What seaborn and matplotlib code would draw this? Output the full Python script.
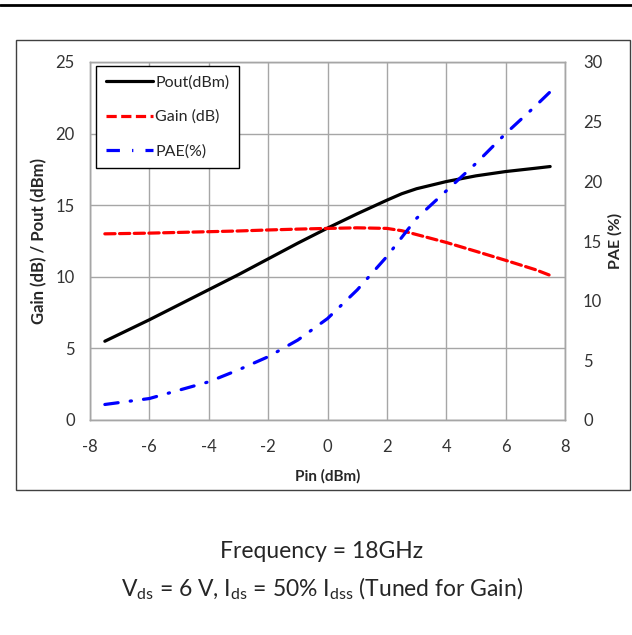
import numpy as np
import pandas as pd
import matplotlib
matplotlib.use("Agg")
import matplotlib.pyplot as plt
import seaborn as sns
from matplotlib.lines import Line2D
from matplotlib.patches import Rectangle

# values
pin = [-7.5, -6, -5, -4, -3, -2, -1, 0, 1, 2, 2.5, 3, 4, 5, 6, 7, 7.5]
pout = [5.5, 7.0, 8.05, 9.1, 10.15, 11.25, 12.35, 13.4, 14.4, 15.35, 15.8, 16.15, 16.65, 17.05, 17.35, 17.58, 17.7]
gain = [13.0, 13.05, 13.1, 13.15, 13.2, 13.27, 13.33, 13.38, 13.42, 13.38, 13.22, 12.95, 12.4, 11.78, 11.15, 10.5, 10.1]
pae = [1.3, 1.8, 2.5, 3.2, 4.2, 5.3, 6.7, 8.5, 10.9, 13.7, 15.3, 16.9, 19.2, 21.5, 24.0, 26.3, 27.5]

xticks = [-8, -6, -4, -2, 0, 2, 4, 6, 8]
left_ticks = [0, 5, 10, 15, 20, 25]
right_ticks = [0, 5, 10, 15, 20, 25, 30]

df = pd.DataFrame({"Pin": pin, "Pout": pout, "Gain": gain, "PAE": pae})

sns.set_style("white")
plt.rcParams["font.family"] = ["Lato", "DejaVu Sans"]
plt.rcParams["mathtext.fontset"] = "custom"
plt.rcParams["mathtext.rm"] = "Lato"
plt.rcParams["axes.unicode_minus"] = False

fig = plt.figure(figsize=(6.32, 6.35), dpi=100)
ax = fig.add_axes([90/632, 1 - 420/635, 475/632, 358/635])
ax2 = ax.twinx()

lw = 2.3
sns.lineplot(data=df, x="Pin", y="Pout", ax=ax, color="black", lw=lw)
sns.lineplot(data=df, x="Pin", y="Gain", ax=ax, color="#ff0000", lw=lw)
sns.lineplot(data=df, x="Pin", y="PAE", ax=ax2, color="#0000ff", lw=lw)

gain_ls = (0, (3.2, 1.4))
pae_ls = (0, (4.2, 3.8, 0.4, 3.8))
ax.lines[1].set_linestyle(gain_ls)
ax2.lines[0].set_linestyle(pae_ls)
for l in ax.lines + ax2.lines:
    l.set_dash_capstyle("round")
    l.set_solid_capstyle("round")

ax.set_xlim(-8, 8)
ax.set_ylim(0, 25)
ax2.set_ylim(0, 30)
ax.set_xticks(xticks)
ax.set_yticks(left_ticks)
ax2.set_yticks(right_ticks)
ax.grid(True, color="#a6a6a6", lw=1)
ax2.grid(False)
for a in (ax, ax2):
    for s in a.spines.values():
        s.set_color("#a6a6a6")
        s.set_linewidth(1)
    a.tick_params(length=0, labelsize=12, colors="#333333")
ax.tick_params(axis="y", pad=11)
ax.tick_params(axis="x", pad=14)
ax2.tick_params(axis="y", pad=13)

ax.set_xlabel("Pin (dBm)", fontsize=11, fontweight="bold", labelpad=10)
ax.set_ylabel("Gain (dB) / Pout (dBm)", fontsize=12, fontweight="bold", labelpad=6)
ax2.set_ylabel("PAE (%)", fontsize=11.5, fontweight="bold", labelpad=4)

handles = [
    Line2D([], [], color="black", lw=lw),
    Line2D([], [], color="#ff0000", lw=lw, linestyle=gain_ls),
    Line2D([], [], color="#0000ff", lw=lw, linestyle=pae_ls),
]
leg = ax2.legend(handles, ["Pout(dBm)", "Gain (dB)", "PAE(%)"],
                 loc="upper left", bbox_to_anchor=(0.0126, 0.989),
                 borderaxespad=0, fontsize=11.5, handlelength=3.0,
                 handletextpad=0.1, labelspacing=1.25, borderpad=0.6,
                 fancybox=False, framealpha=1, edgecolor="black")
leg.get_frame().set_linewidth(1)

# outer border and top rule
fig.patches.append(Rectangle((16/632, 1 - 490/635), 614/632, 450/635,
                             transform=fig.transFigure, fill=False,
                             edgecolor="#404040", lw=1))
fig.add_artist(Line2D([0, 1], [1 - 5/635, 1 - 5/635], transform=fig.transFigure,
                      color="black", lw=2))

fig.text(322/632, 1 - 551/635, "Frequency = 18GHz", ha="center", va="center", fontsize=16.5)
fig.text(322/632, 1 - 589/635,
         r"V$_\mathregular{ds}$ = 6 V, I$_\mathregular{ds}$ = 50% I$_\mathregular{dss}$ (Tuned for Gain)",
         ha="center", va="center", fontsize=16.5)

fig.savefig("out.png", dpi=100)
